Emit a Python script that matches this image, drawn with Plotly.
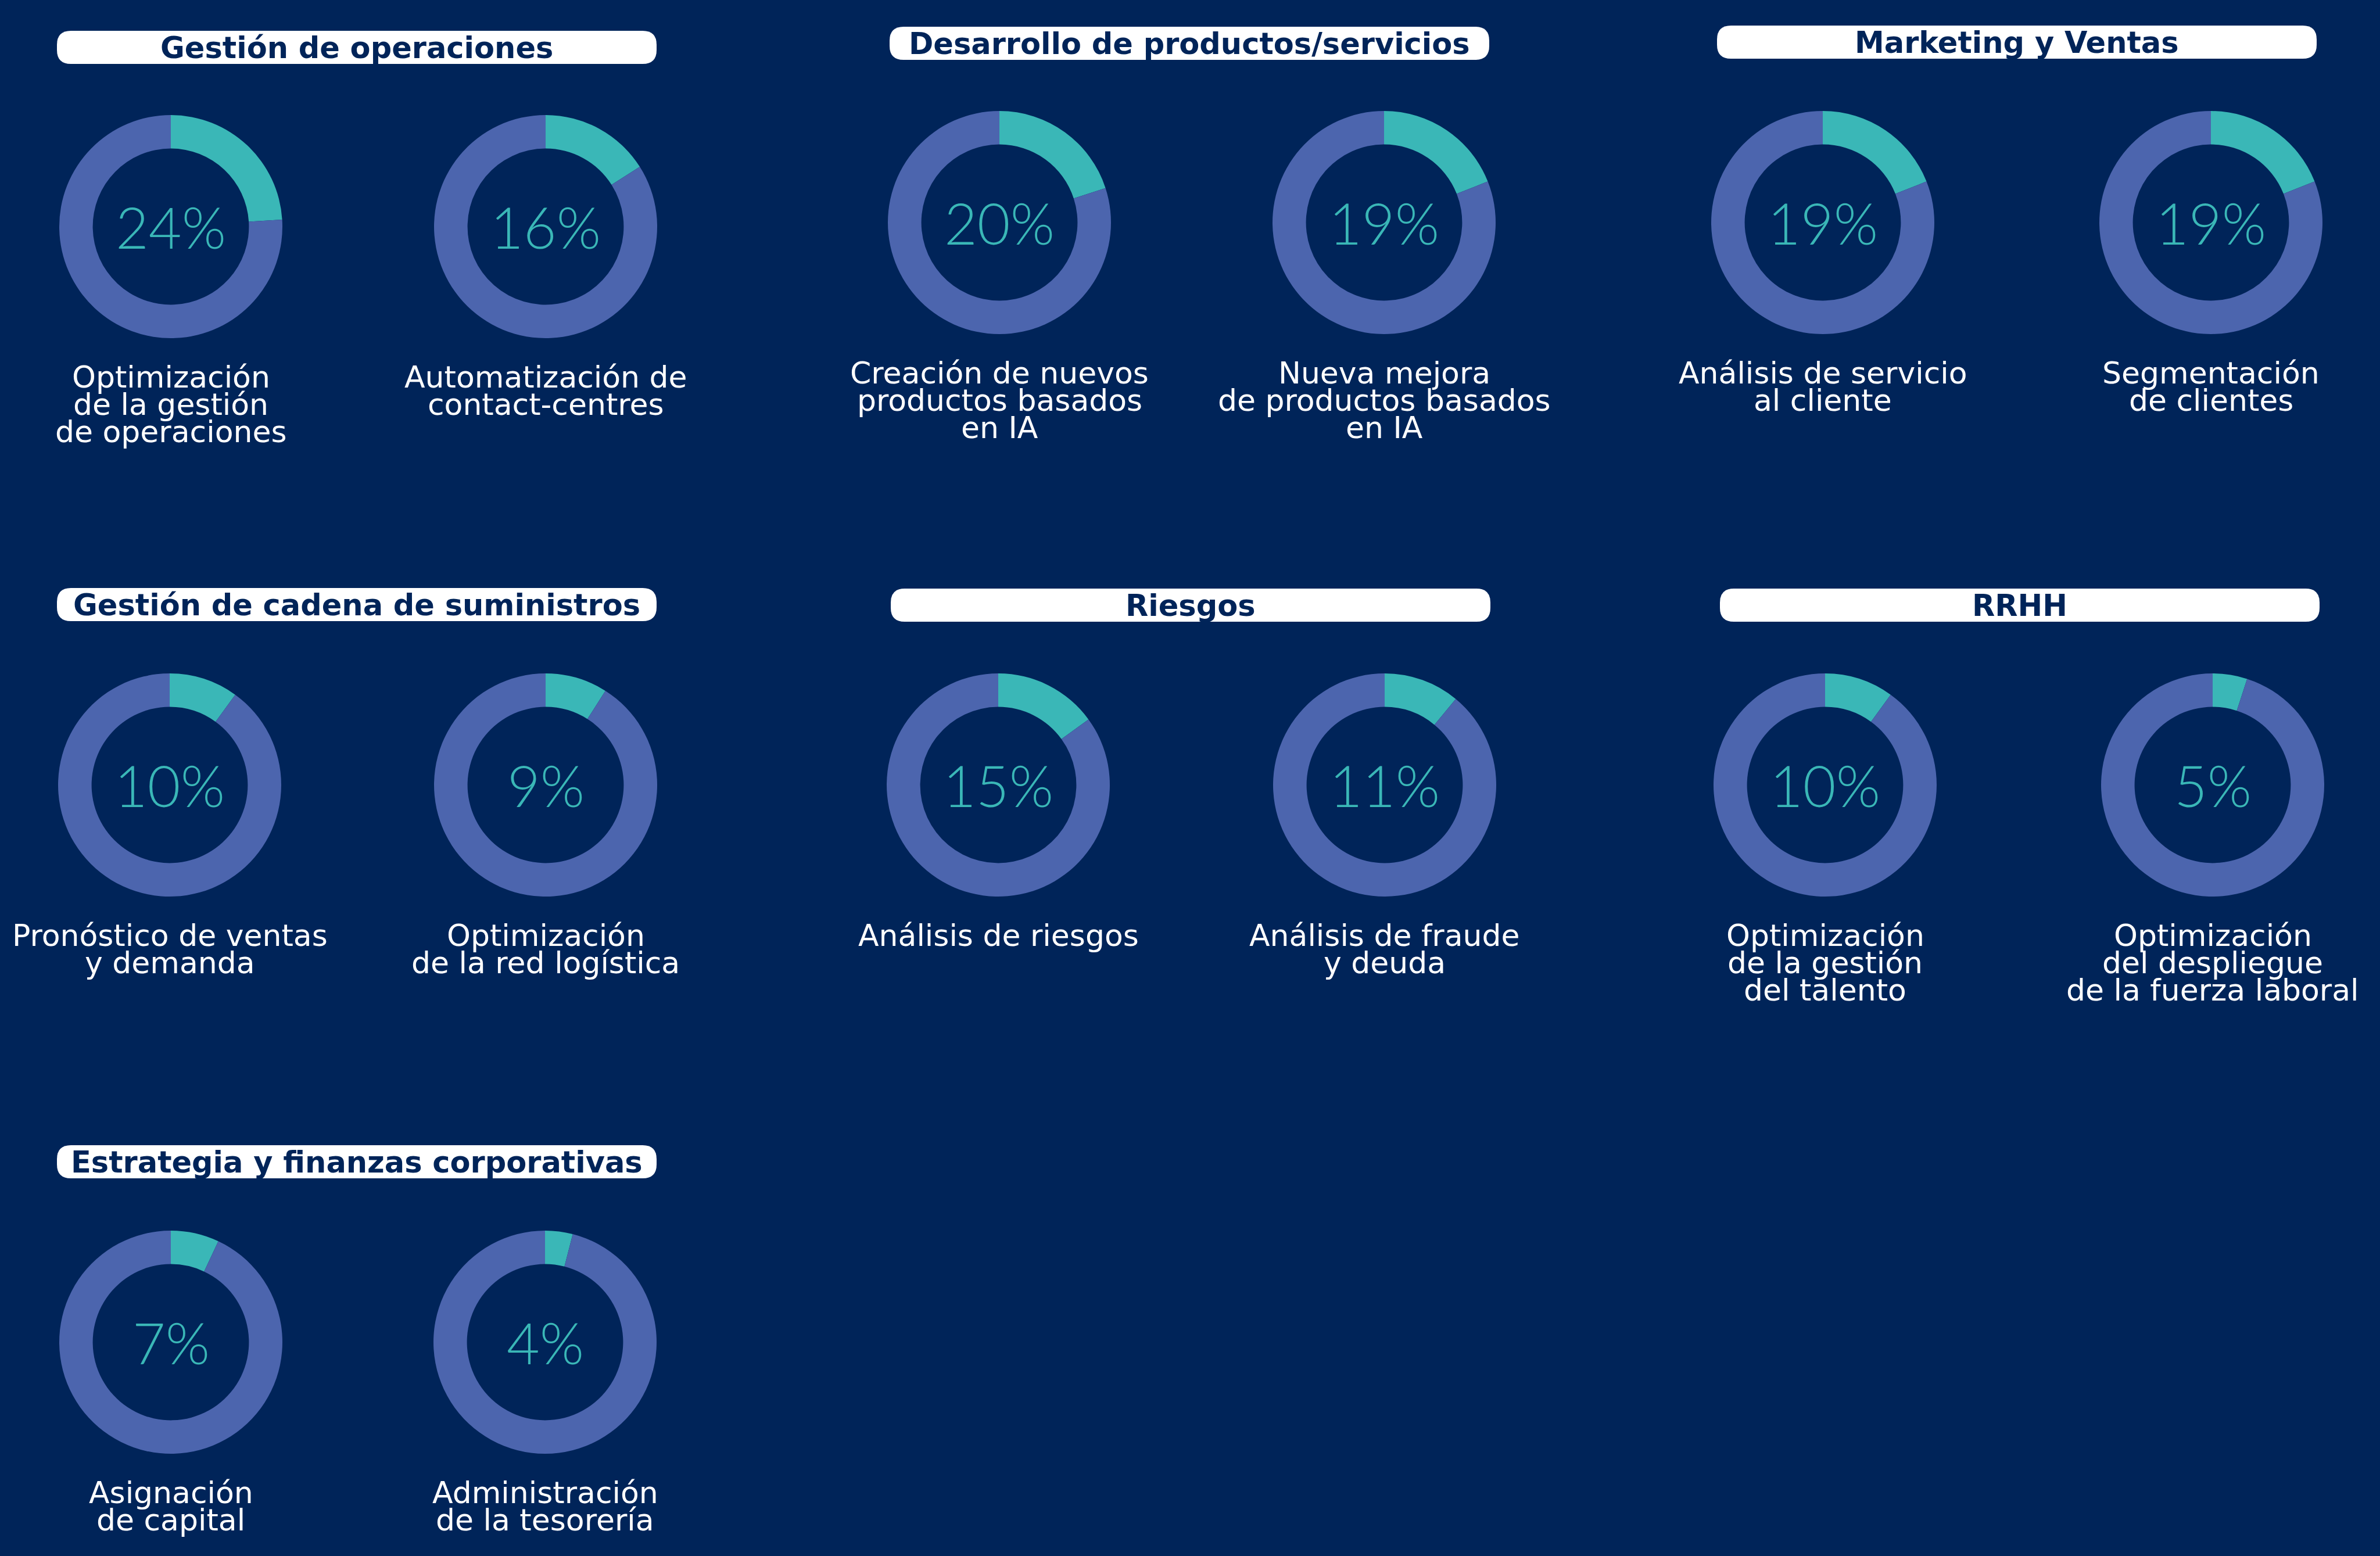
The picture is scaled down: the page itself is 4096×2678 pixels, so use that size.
import plotly.graph_objects as go

W, H = 4096, 2678
BG = "#002459"
RING = "#4C65AE"
TEAL = "#3AB7B7"
NAVY = "#002459"

# ---- data ----
groups = [
    "Gestión de operaciones",
    "Desarrollo de productos/servicios",
    "Marketing y Ventas",
    "Gestión de cadena de suministros",
    "Riesgos",
    "RRHH",
    "Estrategia y finanzas corporativas",
]
item_labels = [
    ["Optimización<br>de la gestión<br>de operaciones", "Automatización de<br>contact-centres"],
    ["Creación de nuevos<br>productos basados<br>en IA", "Nueva mejora<br>de productos basados<br>en IA"],
    ["Análisis de servicio<br>al cliente", "Segmentación<br>de clientes"],
    ["Pronóstico de ventas<br>y demanda", "Optimización<br>de la red logística"],
    ["Análisis de riesgos", "Análisis de fraude<br>y deuda"],
    ["Optimización<br>de la gestión<br>del talento", "Optimización<br>del despliegue<br>de la fuerza laboral"],
    ["Asignación<br>de capital", "Administración<br>de la tesorería"],
]
item_values = [
    [24, 16],
    [20, 19],
    [19, 19],
    [10, 9],
    [15, 11],
    [10, 5],
    [7, 4],
]

# ---- layout positions (output pixels) ----
# (pill left, pill top, [donut centre x a, b], donut centre y)
cells = [
    (98, 53, [294, 939], 390),
    (1531, 46, [1720, 2382], 383),
    (2955, 44, [3137, 3805], 383),
    (98, 1012, [292, 939], 1351),
    (1533, 1013, [1718, 2383], 1351),
    (2960, 1013, [3141, 3808], 1351),
    (98, 1971, [294, 938], 2310),
]
PILL_W, PILL_H, PILL_R = 1032, 57, 24
R = 192
LABEL_OFF = 259
LINE_H = 47

fig = go.Figure()
shapes = []
annotations = []


def pill_path(x0, y0, w, h, r):
    x1, y1 = x0 + w, y0 + h
    return (f"M {x0 + r},{y0} L {x1 - r},{y0} Q {x1},{y0} {x1},{y0 + r} "
            f"L {x1},{y1 - r} Q {x1},{y1} {x1 - r},{y1} L {x0 + r},{y1} "
            f"Q {x0},{y1} {x0},{y1 - r} L {x0},{y0 + r} Q {x0},{y0} {x0 + r},{y0} Z")


for g, (px, py, cxs, cy) in enumerate(cells):
    shapes.append(dict(type="path", xref="x", yref="y", path=pill_path(px, py, PILL_W, PILL_H, PILL_R),
                       fillcolor="white", line=dict(width=0), layer="below"))
    annotations.append(dict(x=px + PILL_W / 2, y=py + PILL_H / 2 + 1, xref="x", yref="y",
                            text=f"<b>{groups[g]}</b>", showarrow=False,
                            xanchor="center", yanchor="middle",
                            font=dict(family="DejaVu Sans", size=51, color=NAVY)))
    for k in range(2):
        v = item_values[g][k]
        cx = cxs[k]
        fig.add_trace(go.Pie(
            values=[v, 100 - v], hole=0.70, sort=False, direction="clockwise", rotation=0,
            marker=dict(colors=[TEAL, RING], line=dict(width=0)),
            textinfo="none", hoverinfo="skip", showlegend=False,
            domain=dict(x=[(cx - R) / W, (cx + R) / W], y=[1 - (cy + R) / H, 1 - (cy - R) / H]),
        ))
        annotations.append(dict(x=cx, y=cy, xref="x", yref="y", text=f"{v}%", showarrow=False,
                                xanchor="center", yanchor="middle",
                                font=dict(family="Lato", size=98, color=TEAL, weight=300)))
        for li, line in enumerate(item_labels[g][k].split("<br>")):
            annotations.append(dict(x=cx, y=cy + LABEL_OFF + li * LINE_H, xref="x", yref="y",
                                    text=line, showarrow=False, xanchor="center", yanchor="middle",
                                    font=dict(family="DejaVu Sans", size=52, color="white")))

fig.update_layout(
    width=W, height=H, margin=dict(l=0, r=0, t=0, b=0),
    paper_bgcolor=BG, plot_bgcolor=BG,
    xaxis=dict(range=[0, W], visible=False, fixedrange=True),
    yaxis=dict(range=[H, 0], visible=False, fixedrange=True),
    shapes=shapes, annotations=annotations,
)
fig.write_html("out.html", config={"displayModeBar": False},
               post_script="document.body.style.margin='0';document.body.style.overflow='hidden';")
